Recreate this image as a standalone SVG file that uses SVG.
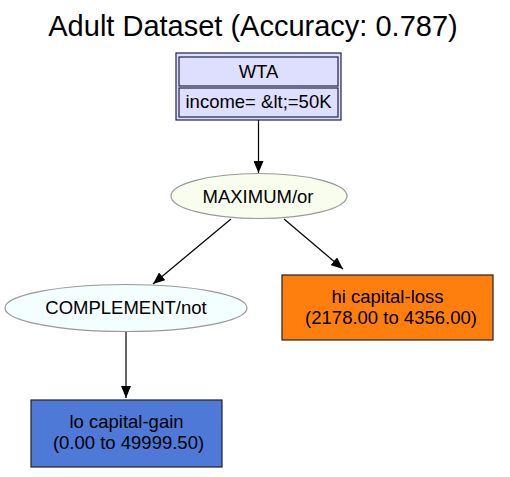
<svg xmlns="http://www.w3.org/2000/svg" width="510" height="477" viewBox="0 0 510 477">
<style>
text{font-family:"Liberation Sans",Arial,sans-serif;font-size:18.5px;fill:#000;text-anchor:middle}
.title{font-size:29px}
.wta{fill:#dedeff;stroke:#222244;stroke-width:1.2}
.ell{stroke:#999;stroke-width:1.2}
.box{stroke:#222;stroke-width:1.2}
.edge{stroke:#000;stroke-width:1.2;fill:none}
</style>
<defs>
<marker id="ah" viewBox="0 0 12 10" refX="12" refY="5" markerWidth="12" markerHeight="10" markerUnits="userSpaceOnUse" orient="auto">
<path d="M0,0 L12,5 L0,10 z" fill="#000"/>
</marker>
</defs>
<rect width="510" height="477" fill="#fff"/>
<text class="title" x="253" y="36">Adult Dataset (Accuracy: 0.787)</text>
<g id="connectors">
<line class="edge" x1="258.5" y1="120" x2="258.5" y2="173" marker-end="url(#ah)"/>
<line class="edge" x1="231" y1="219" x2="153" y2="284" marker-end="url(#ah)"/>
<line class="edge" x1="284" y1="219" x2="343" y2="269" marker-end="url(#ah)"/>
<line class="edge" x1="126" y1="332" x2="126" y2="398" marker-end="url(#ah)"/>
</g>
<g id="wta">
<rect class="wta" x="176" y="53" width="165" height="67"/>
<rect class="wta" x="179" y="57" width="159" height="29"/>
<rect class="wta" x="179" y="88" width="159" height="29"/>
<text x="258.5" y="77.5">WTA</text>
<text x="258.5" y="108">income= &amp;lt;=50K</text>
</g>
<g id="maximum">
<ellipse class="ell" cx="259" cy="196" rx="88" ry="22.5" fill="#f8fdee"/>
<text x="258" y="202.5">MAXIMUM/or</text>
</g>
<g id="complement">
<ellipse class="ell" cx="126" cy="308" rx="121" ry="23.5" fill="#f3fefe"/>
<text x="126" y="314">COMPLEMENT/not</text>
</g>
<g id="hi-capital-loss">
<rect class="box" x="282" y="275" width="211" height="65" fill="#ff7f0e"/>
<text x="387.5" y="303">hi capital-loss</text>
<text x="391" y="324">(2178.00 to 4356.00)</text>
</g>
<g id="lo-capital-gain">
<rect class="box" x="31" y="400" width="191" height="67" fill="#4e79d6"/>
<text x="126.5" y="428">lo capital-gain</text>
<text x="128.5" y="449">(0.00 to 49999.50)</text>
</g>
</svg>
